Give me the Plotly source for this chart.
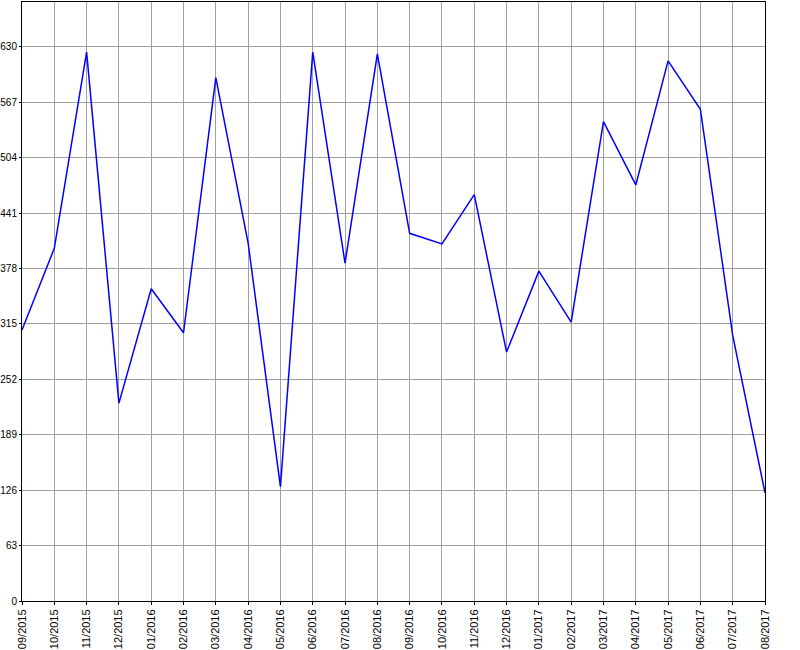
import plotly.graph_objects as go

months = ["09/2015", "10/2015", "11/2015", "12/2015", "01/2016", "02/2016",
          "03/2016", "04/2016", "05/2016", "06/2016", "07/2016", "08/2016",
          "09/2016", "10/2016", "11/2016", "12/2016", "01/2017", "02/2017",
          "03/2017", "04/2017", "05/2017", "06/2017", "07/2017", "08/2017"]
values = [308, 401, 624, 225, 355, 305, 595, 407, 130, 624, 384, 622,
          418, 406, 462, 283, 375, 317, 545, 473, 614, 559, 302, 123]
y_ticks = [0, 63, 126, 189, 252, 315, 378, 441, 504, 567, 630]

fig = go.Figure(go.Scatter(x=months, y=values, mode="lines",
                           line=dict(color="#0000ff", width=1.5)))

fig.update_layout(
    width=800, height=650,
    margin=dict(l=22, r=35, t=2, b=49, autoexpand=False),
    paper_bgcolor="white", plot_bgcolor="white",
    showlegend=False,
    font=dict(family="Liberation Sans, Arial, sans-serif", size=11, color="black"),
)
fig.update_xaxes(
    type="category", range=[0, len(months) - 1], automargin=False,
    showgrid=True, gridcolor="#a0a0a0", gridwidth=1,
    showline=True, linecolor="black", linewidth=1, mirror=True,
    ticks="outside", ticklen=3, tickcolor="black",
    tickangle=-90, tickfont=dict(size=11),
)
fig.update_yaxes(
    range=[0, 681], tickvals=y_ticks, ticktext=[str(v) for v in y_ticks],
    automargin=False,
    showgrid=True, gridcolor="#a0a0a0", gridwidth=1, zeroline=False,
    showline=True, linecolor="black", linewidth=1, mirror=True,
    ticks="outside", ticklen=2, tickcolor="black", tickfont=dict(size=10),
)

fig.write_html("out.html", config={"displayModeBar": False},
               post_script="document.body.style.margin='0';document.body.style.overflow='hidden';")
